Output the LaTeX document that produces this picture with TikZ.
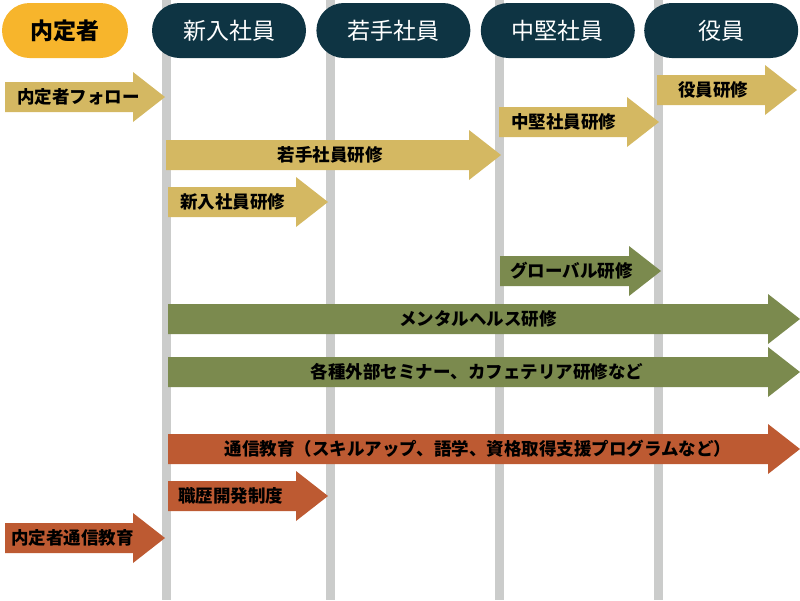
\documentclass[tikz,border=0pt]{standalone}
\usepackage{fontspec}
\usepackage{tikz}
\usetikzlibrary{positioning}
\setmainfont{Noto Sans CJK JP}
\definecolor{stage-navy}{HTML}{0E3443}
\definecolor{intern-gold}{HTML}{F7B52C}
\definecolor{course-gold}{HTML}{D4B862}
\definecolor{course-green}{HTML}{7B8A4E}
\definecolor{course-rust}{HTML}{BD5A32}
\definecolor{stage-gray}{HTML}{CBCCCB}
\tikzset{
    stage-pill/.style = {fill=stage-navy, text=white, rectangle, rounded corners=27.5pt, minimum width=154pt, minimum height=55pt, inner sep=0pt, font=\fontsize{23}{23}\selectfont},
    intern-pill/.style = {stage-pill, fill=intern-gold, text=black, minimum width=126pt, font=\fontsize{23}{23}\selectfont\bfseries},
    stage-line/.style = {draw=stage-gray, line width=9pt},
    course-label/.style = {inner sep=0pt, text=black, font=\fontsize{17.5}{18}\selectfont\bfseries},
}
% name, colour, tail x, tip x, y, label anchor, label x, text
\newcommand{\course}[8]{%
    \fill[#2] (#3,#5-15) -- (#4-32,#5-15) -- (#4-32,#5-25) -- (#4,#5) -- (#4-32,#5+25) -- (#4-32,#5+15) -- (#3,#5+15) -- cycle;
    \node[course-label, anchor=#6] (#1) at (#7,#5) {#8};
}

\begin{document}
\begin{tikzpicture}[x=1pt, y=-1pt]
\useasboundingbox (0,0) rectangle (800,600);
\foreach \x in {166,330.5,499.5,658.5}
    \draw[stage-line] (\x,0) -- (\x,600);

\node[intern-pill] (naitei) at (65,30.5) {内定者};
\node[stage-pill] (shinnyu) at (229,30.5) {新入社員};
\node[stage-pill, right=10pt of shinnyu] (wakate) {若手社員};
\node[stage-pill, right=10pt of wakate] (chuken) {中堅社員};
\node[stage-pill, right=9pt of chuken] (yakuin) {役員};

\course{follow}{course-gold}{5}{165}{97}{west}{17}{内定者フォロー}
\course{yakuin-kenshu}{course-gold}{657}{797}{90}{center}{713}{役員研修}
\course{chuken-kenshu}{course-gold}{499}{659}{122}{west}{511}{中堅社員研修}
\course{wakate-kenshu}{course-gold}{166}{501}{155}{center}{330}{若手社員研修}
\course{shinnyu-kenshu}{course-gold}{168}{328}{202}{west}{180}{新入社員研修}
\course{global}{course-green}{500}{661}{271}{west}{510}{グローバル研修}
\course{mental}{course-green}{168}{800}{319}{center}{478}{メンタルヘルス研修}
\course{seminar}{course-green}{168}{800}{372}{center}{477}{各種外部セミナー、カフェテリア研修など}
\course{tsushin}{course-rust}{168}{800}{449}{center}{478}{通信教育（スキルアップ、語学、資格取得支援プログラムなど）}
\course{career}{course-rust}{168}{328}{496}{west}{178}{職歴開発制度}
\course{naitei-tsushin}{course-rust}{5}{165}{538}{west}{11}{内定者通信教育}
\end{tikzpicture}
\end{document}
